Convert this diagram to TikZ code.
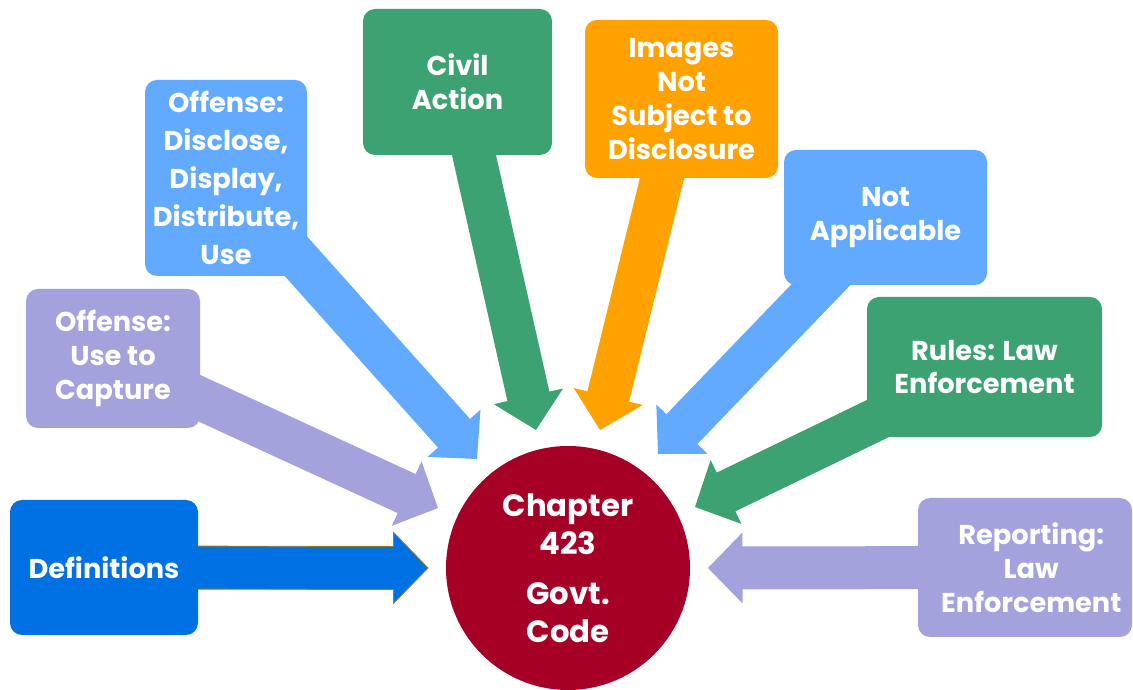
\documentclass[tikz,border=0pt]{standalone}
\usepackage{fontspec}
\setmainfont{Poppins}
\usetikzlibrary{calc}

\pgfdeclarelayer{background}
\pgfsetlayers{background,main}

\definecolor{defblue}{HTML}{0071E3}
\definecolor{skyblue}{HTML}{62AAFF}
\definecolor{lavender}{HTML}{A3A2DD}
\definecolor{lawgreen}{HTML}{3DA272}
\definecolor{amber}{HTML}{FFA200}
\definecolor{crimson}{HTML}{A60026}

% half widths of shaft and head, length of head
\newcommand{\shafthalf}{0.43cm}
\newcommand{\headhalf}{0.71cm}
\newcommand{\headlen}{0.69cm}

% fat block arrow from the centre of a box to a tip coordinate
\newcommand{\blockarrow}[3][]{%
  \coordinate (base) at ($(#3)!\headlen!(#2.center)$);
  \filldraw[#1] ($(#2.center)!\shafthalf!90:(#3)$)
    -- ($(base)!\shafthalf!-90:(#2.center)$)
    -- ($(base)!\headhalf!-90:(#2.center)$)
    -- (#3)
    -- ($(base)!\headhalf!90:(#2.center)$)
    -- ($(base)!\shafthalf!90:(#2.center)$)
    -- ($(#2.center)!\shafthalf!-90:(#3)$) -- cycle;%
}

\tikzset{
  topic/.style={rounded corners=0.24cm, text=white, align=center, inner sep=0pt,
    font=\bfseries\fontsize{15.5}{19.3}\selectfont},
}

\begin{document}
\begin{tikzpicture}
    \useasboundingbox (0,0) rectangle (22.66,13.8);

    % hub in the middle
    \node[circle, fill=crimson, minimum size=4.88cm, text=white, align=center,
          font=\bfseries\fontsize{17.5}{21.5}\selectfont] (hub) at (11.36,2.44)
        {Chapter\\423\\[0.25cm]Govt.\\Code};

    % boxes around the hub
    \node[topic, fill=defblue, minimum width=3.76cm, minimum height=2.7cm] (defs) at (2.08,2.45) {Definitions};
    \node[topic, fill=lavender, minimum width=3.48cm, minimum height=2.78cm] (capture) at (2.26,6.63) {Offense:\\Use to\\Capture};
    \node[topic, fill=skyblue, minimum width=3.24cm, minimum height=3.92cm,
          font=\bfseries\fontsize{15.5}{21.6}\selectfont] (disclose) at (4.52,10.24) {Offense:\\Disclose,\\Display,\\Distribute,\\Use};
    \node[topic, fill=lawgreen, minimum width=3.78cm, minimum height=2.92cm] (civil) at (9.15,12.16) {Civil\\Action};
    \node[topic, fill=amber, minimum width=3.86cm, minimum height=3.16cm] (images) at (13.63,11.82) {Images\\Not\\Subject to\\Disclosure};
    \node[topic, fill=skyblue, minimum width=4.06cm, minimum height=2.7cm] (notappl) at (17.71,9.45) {Not\\Applicable};
    \node[topic, fill=lawgreen, minimum width=4.7cm, minimum height=2.8cm] (rules) at (19.69,6.46) {Rules: Law\\Enforcement};
    \node[topic, fill=lavender, minimum width=4.28cm, minimum height=2.78cm] (report) at (20.5,2.45) {\hspace*{0.25cm}Reporting:\\\hspace*{0.25cm}Law\\\hspace*{0.25cm}Enforcement};

    % where the arrows end
    \coordinate (defs-tip) at (8.56,2.44);
    \coordinate (capture-tip) at (8.76,3.64);
    \coordinate (disclose-tip) at (9.54,4.62);
    \coordinate (civil-tip) at (10.72,5.2);
    \coordinate (images-tip) at (12.0,5.2);
    \coordinate (notappl-tip) at (13.16,4.72);
    \coordinate (rules-tip) at (13.9,3.66);
    \coordinate (report-tip) at (14.16,2.44);

    \begin{pgfonlayer}{background}
        \blockarrow[fill=defblue, draw=black!45!brown!70!yellow, line width=0.5pt]{defs}{defs-tip}
        \blockarrow[fill=lavender, draw=none]{capture}{capture-tip}
        \blockarrow[fill=skyblue, draw=none]{disclose}{disclose-tip}
        \blockarrow[fill=lawgreen, draw=none]{civil}{civil-tip}
        \blockarrow[fill=amber, draw=none]{images}{images-tip}
        \blockarrow[fill=skyblue, draw=none]{notappl}{notappl-tip}
        \blockarrow[fill=lawgreen, draw=none]{rules}{rules-tip}
        \blockarrow[fill=lavender, draw=none]{report}{report-tip}
    \end{pgfonlayer}
\end{tikzpicture}
\end{document}
